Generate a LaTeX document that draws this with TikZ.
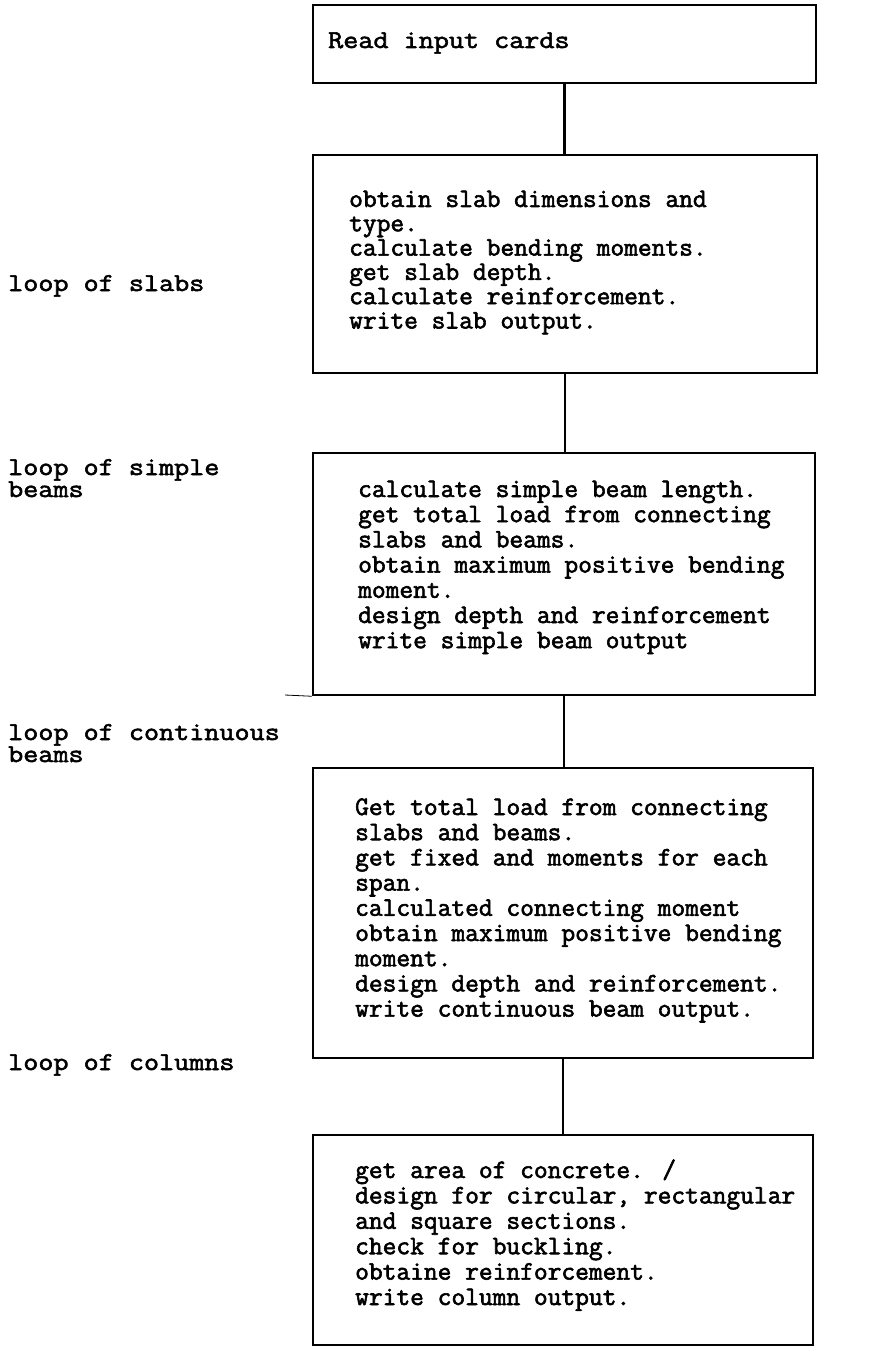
\documentclass[tikz,border=0pt]{standalone}
\usepackage{fontspec}
\newfontfamily\tw{Latin Modern Mono}[AutoFakeBold=2.2]
\newfontfamily\twwide{Latin Modern Mono}[FakeStretch=1.14,AutoFakeBold=2.2]
\newcommand{\boxlines}[1]{\parbox[t]{540pt}{\lineskiplimit=-100pt\relax\lineskip=0pt\relax\raggedright #1}}
\begin{document}
\begin{tikzpicture}[x=1pt,y=-1pt,
  flowbox/.style={draw, line width=2.5pt, rectangle, inner sep=0pt},
  boxtext/.style={anchor=base west, inner sep=0pt, font=\tw\bfseries\fontsize{26.7}{25.2}\selectfont},
  bigtext/.style={anchor=base west, inner sep=0pt, font=\twwide\bfseries\fontsize{25.7}{22}\selectfont},
  link/.style={line width=2.5pt}]
\useasboundingbox (0,0) rectangle (890,1351);
% boxes
\node[flowbox, minimum width=503pt, minimum height=78pt] (b1) at (564.5,44) {};
\node[flowbox, minimum width=504pt, minimum height=218pt] (b2) at (565,264) {};
\node[flowbox, minimum width=502pt, minimum height=242pt] (b3) at (564,574) {};
\node[flowbox, minimum width=500pt, minimum height=290pt] (b4) at (563,913) {};
\node[flowbox, minimum width=500pt, minimum height=210pt] (b5) at (563,1240) {};
% connectors
\draw[link] (b1.south) -- (b1.south |- b2.north);
\draw[link] (b2.south) -- (b2.south |- b3.north);
\draw[link] (b3.south) -- (b3.south |- b4.north);
\draw[link] (b4.south) -- (b4.south |- b5.north);
\coordinate (stub) at (285,695);
\draw[line width=0.8pt] (stub) -- (b3.south west);
% box texts
\node[bigtext] (t1) at (328,48) {Read input cards};
\node[boxtext, font=\tw\bfseries\fontsize{26.7}{24.3}\selectfont] (t2) at (349,207) {\boxlines{obtain slab dimensions and\\type.\\calculate bending moments.\\get slab depth.\\calculate reinforcement.\\write slab output.}};
\node[boxtext] (t3) at (358,497) {\boxlines{calculate simple beam length.\\get total load from connecting\\slabs and beams.\\obtain maximum positive bending\\moment.\\design depth and reinforcement\\write simple beam output}};
\node[boxtext] (t4) at (355,815) {\boxlines{Get total load from connecting\\slabs and beams.\\get fixed and moments for each\\span.\\calculated connecting moment\\obtain maximum positive bending\\moment.\\design depth and reinforcement.\\write continuous beam output.}};
\node[boxtext, font=\tw\bfseries\fontsize{26.7}{25.4}\selectfont] (t5) at (355,1178) {\boxlines{get area of concrete. /\\design for circular, rectangular\\and square sections.\\check for buckling.\\obtaine reinforcement.\\write column output.}};
% loop labels
\node[bigtext] (l1) at (8,291) {loop of slabs};
\node[bigtext] (l2) at (8,475) {\boxlines{loop of simple\\beams}};
\node[bigtext] (l3) at (8,740) {\boxlines{loop of continuous\\beams}};
\node[bigtext] (l4) at (8,1070) {loop of columns};
\end{tikzpicture}
\end{document}
